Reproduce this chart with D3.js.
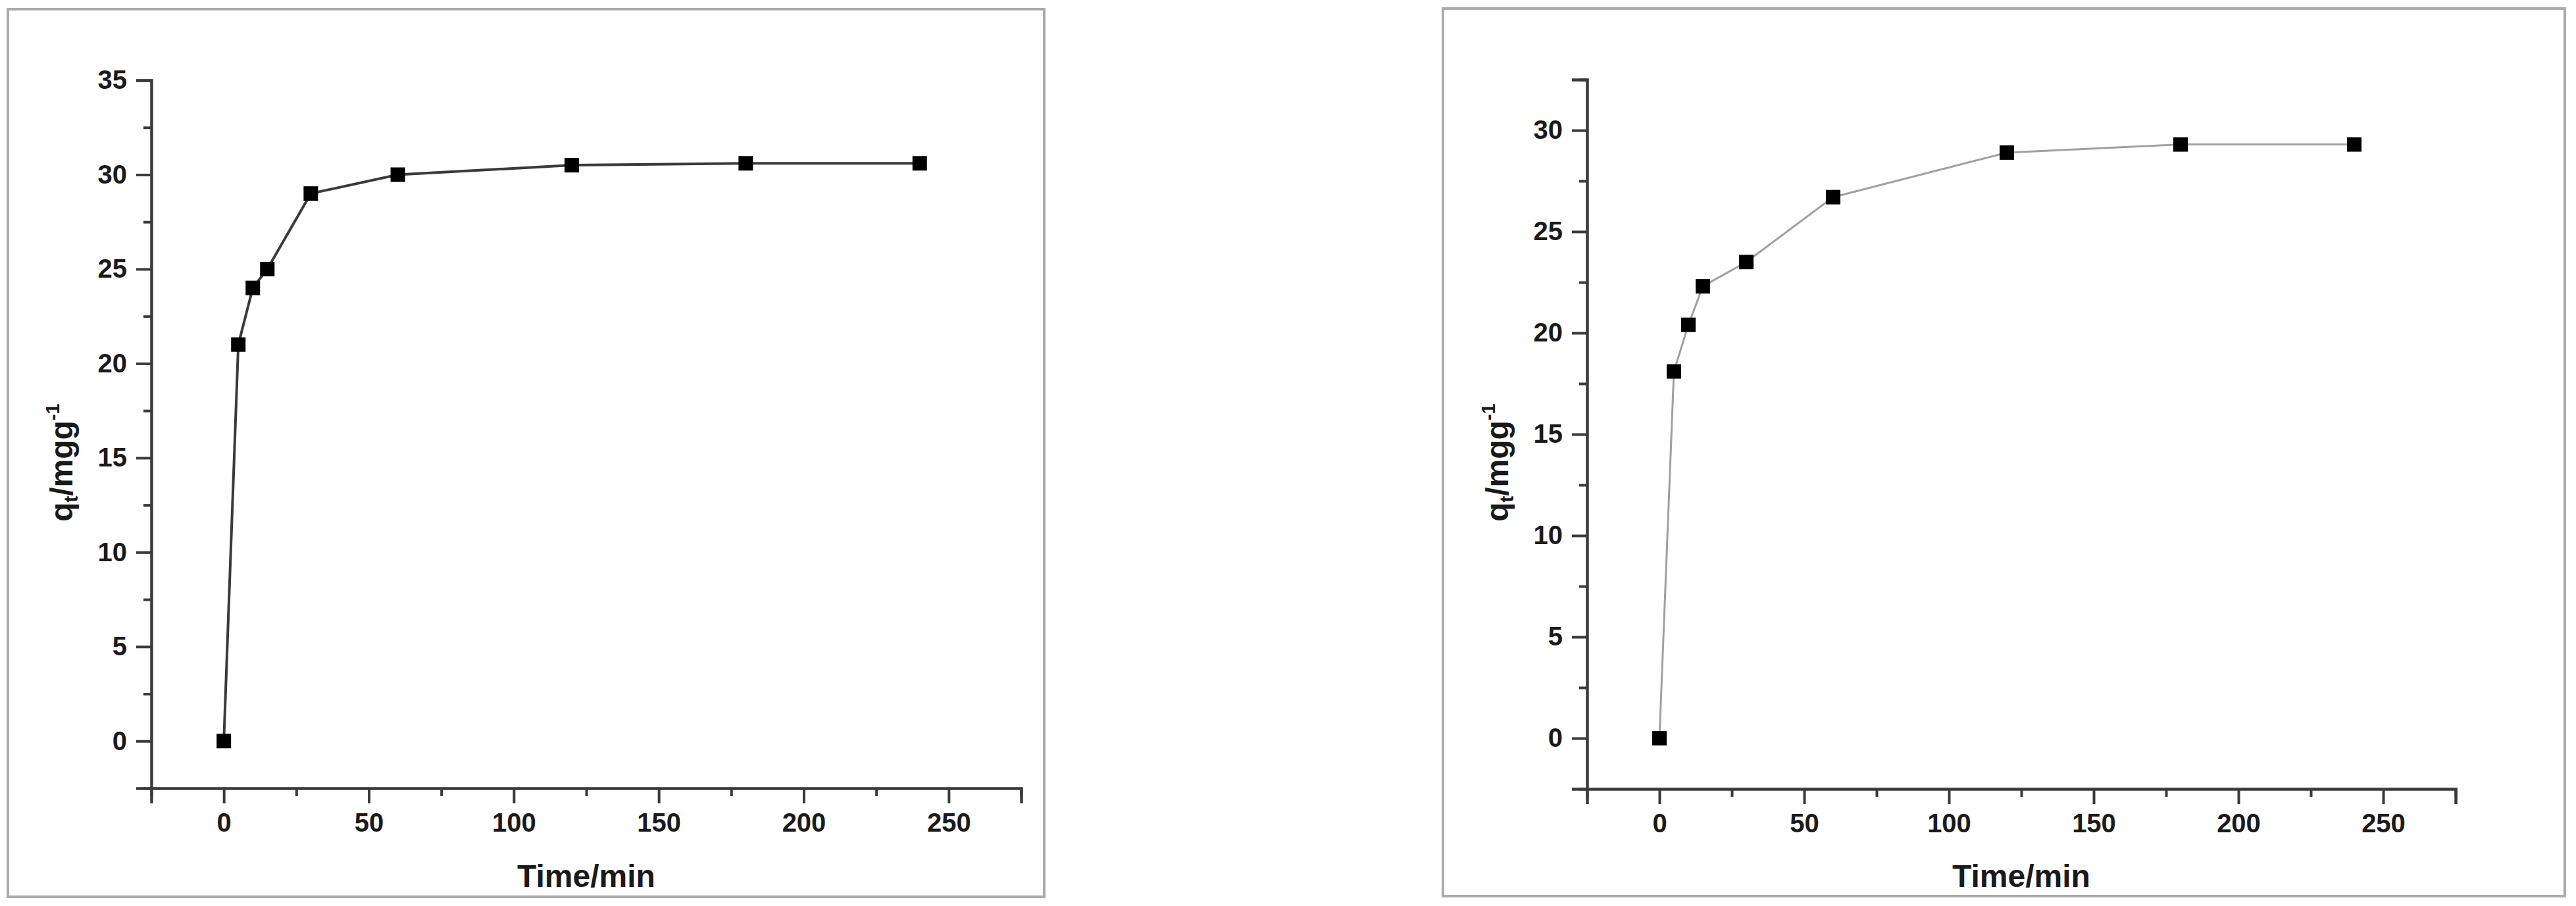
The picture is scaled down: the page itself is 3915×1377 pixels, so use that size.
<!DOCTYPE html>
<html>
<head>
<meta charset="utf-8">
<script src="https://cdn.jsdelivr.net/npm/d3@7"></script>
<style>
  html, body { margin: 0; padding: 0; background: #fff; }
  svg { display: block; }
  text { font-family: "Liberation Sans", Arial, sans-serif; font-weight: bold; fill: #1a1a1a; }
</style>
</head>
<body>
<svg id="chart" width="3915" height="1377"></svg>
<script>
// ---- data ----
const timeMin = [0, 5, 10, 15, 30, 60, 120, 180, 240];
const qtLeft  = [0, 21, 24, 25, 29, 30, 30.5, 30.6, 30.6];
const qtRight = [0, 18.1, 20.4, 22.3, 23.5, 26.7, 28.9, 29.3, 29.3];
const xTickValues = [0, 50, 100, 150, 200, 250];
const xMinorValues = [-25, 25, 75, 125, 175, 225, 275];
const yTicksLeft = [0, 5, 10, 15, 20, 25, 30, 35];
const yMinorLeft = [-2.5, 2.5, 7.5, 12.5, 17.5, 22.5, 27.5, 32.5];
const yTicksRight = [0, 5, 10, 15, 20, 25, 30];
const yMinorRight = [-2.5, 2.5, 7.5, 12.5, 17.5, 22.5, 27.5, 32.5];
const xTitle = "Time/min";

const svg = d3.select("#chart");
svg.append("rect").attr("width", 3915).attr("height", 1377).attr("fill", "#fff");

function panel(cfg) {
  const g = svg.append("g");
  // frame
  g.append("rect")
    .attr("x", cfg.frame[0]).attr("y", cfg.frame[1])
    .attr("width", cfg.frame[2] - cfg.frame[0]).attr("height", cfg.frame[3] - cfg.frame[1])
    .attr("fill", "none").attr("stroke", "#ababab").attr("stroke-width", 4);

  const x = d3.scaleLinear().domain([-25, 275]).range([cfg.left, cfg.right]);
  const y = d3.scaleLinear().domain(cfg.yDomain).range([cfg.bottom, cfg.top]);

  const axisColor = "#3a3a3a";
  // minor ticks
  const xMinor = g.append("g").attr("transform", `translate(0,${cfg.bottom})`)
    .call(d3.axisBottom(x).tickValues(xMinorValues).tickSize(12).tickFormat(""));
  const yMinor = g.append("g").attr("transform", `translate(${cfg.left},0)`)
    .call(d3.axisLeft(y).tickValues(cfg.yMinor).tickSize(12).tickFormat(""));
  // major
  const xAx = g.append("g").attr("transform", `translate(0,${cfg.bottom})`)
    .call(d3.axisBottom(x).tickValues(xTickValues).tickSize(23).tickPadding(15).tickFormat(d3.format("d")));
  const yAx = g.append("g").attr("transform", `translate(${cfg.left},0)`)
    .call(d3.axisLeft(y).tickValues(cfg.yTicks).tickSize(23).tickPadding(14).tickFormat(d3.format("d")));

  [xMinor, yMinor, xAx, yAx].forEach(a => {
    a.select(".domain").attr("stroke", axisColor).attr("stroke-width", 4.5);
    a.selectAll(".tick line").attr("stroke", axisColor).attr("stroke-width", 4);
    a.selectAll(".tick text").attr("font-size", 40).attr("fill", "#1a1a1a")
      .attr("font-family", "Liberation Sans, Arial, sans-serif").attr("font-weight", "bold");
  });
  xMinor.select(".domain").remove();
  yMinor.select(".domain").remove();

  // axis titles
  g.append("text")
    .attr("x", (cfg.left + cfg.right) / 2).attr("y", 1348)
    .attr("text-anchor", "middle").attr("font-size", 48)
    .text(xTitle);

  const yl = g.append("text")
    .attr("transform", `translate(${cfg.left - 120},703) rotate(-90)`)
    .attr("text-anchor", "middle").attr("font-size", 48);
  yl.append("tspan").text("q");
  yl.append("tspan").attr("font-size", 29).attr("dy", 8).text("t");
  yl.append("tspan").attr("dy", -8).text("/mgg");
  yl.append("tspan").attr("font-size", 29).attr("dy", -20).text("-1");

  // line
  const pts = timeMin.map((t, i) => [t, cfg.values[i]]);
  g.append("path")
    .datum(pts)
    .attr("fill", "none")
    .attr("stroke", cfg.lineColor)
    .attr("stroke-width", cfg.lineWidth)
    .attr("d", d3.line().x(d => x(d[0])).y(d => y(d[1])));

  // markers
  const s = 22;
  g.selectAll("rect.mk").data(pts).enter().append("rect")
    .attr("class", "mk")
    .attr("x", d => x(d[0]) - s / 2).attr("y", d => y(d[1]) - s / 2)
    .attr("width", s).attr("height", s).attr("fill", "#000");
}

panel({
  frame: [12, 14, 1587, 1363],
  left: 230, right: 1552, top: 122, bottom: 1198,
  yDomain: [-2.5, 35], yTicks: yTicksLeft, yMinor: yMinorLeft,
  values: qtLeft, lineColor: "#3a3a3a", lineWidth: 4
});
panel({
  frame: [2193, 13, 3898, 1362],
  left: 2412, right: 3732, top: 121, bottom: 1199,
  yDomain: [-2.5, 32.5], yTicks: yTicksRight, yMinor: yMinorRight,
  values: qtRight, lineColor: "#a0a0a0", lineWidth: 3
});
</script>
</body>
</html>
